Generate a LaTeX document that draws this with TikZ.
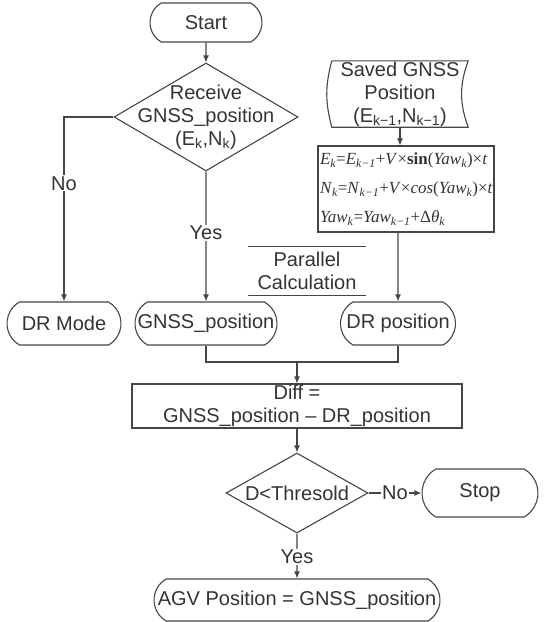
\documentclass[tikz,border=0pt]{standalone}
\usepackage[no-math]{fontspec}
\setmainfont{Liberation Sans}
\newfontfamily\eqfont{Liberation Serif}
\newcommand{\ks}[1]{\textsubscript{\itshape #1}}
\usetikzlibrary{positioning,shapes.geometric,shapes.misc,arrows.meta}
\definecolor{ink}{HTML}{454545}
\definecolor{txtgray}{HTML}{333333}

\begin{document}
\begin{tikzpicture}[x=1pt,y=-1pt,>={Latex[length=7pt,width=6pt]},
    font=\fontsize{20}{23}\selectfont, text=txtgray,
    term/.style = {rounded rectangle, rounded rectangle arc length=120, draw=ink, line width=1.1pt, minimum height=43pt, inner sep=2pt},
    decide/.style = {diamond, draw=ink, line width=1.1pt, inner sep=0pt},
    proc/.style = {rectangle, draw=ink, line width=1.1pt, align=center},
    txt/.style = {align=center, inner sep=0pt},
    lbl/.style = {fill=white, inner sep=1pt},
    line/.style = {draw=ink, line width=1.1pt}]
                \useasboundingbox (0,0) rectangle (544,622);
                \node[term, minimum width=116pt, minimum height=39pt] (start) at (206,22.5) {Start};
                \node[decide, minimum width=184pt, minimum height=108pt] (recv) [below of=start, node distance=94.5pt] {};
                \node[txt] (recvtxt) at (recv) {Receive\\GNSS\_position\\(E\textsubscript{k},N\textsubscript{k})};
                \node[term, minimum width=146pt] (gpos) [below of=recv, node distance=206.5pt] {GNSS\_position};
                \node[term, minimum width=118pt] (drmode) [left of=gpos, node distance=142pt] {DR Mode};
                \node[term, minimum width=119pt] (drpos) [right of=gpos, node distance=192pt] {DR position};
                \node[txt, minimum width=136pt, minimum height=66pt] (saved) at (400,94) {Saved GNSS\\Position\\(E\textsubscript{k−1},N\textsubscript{k−1})};
                \node[proc, minimum width=176pt, minimum height=86pt, text width=172pt, align=left, inner xsep=2pt, font=\eqfont\fontsize{17}{29}\selectfont] (formula) at (406,189)
                    {\textit{E}\ks{k}=\textit{E}\ks{k−1}+\textit{V}×\textbf{sin}(\textit{Yaw}\ks{k})×\textit{t}\\
                     \textit{N}\ks{k}=\textit{N}\ks{k−1}+\textit{V}×\textit{cos}(\textit{Yaw}\ks{k})×\textit{t}\\
                     \textit{Yaw}\ks{k}=\textit{Yaw}\ks{k−1}+Δ\textit{θ}\ks{k}};
                \node[txt, minimum width=118pt, minimum height=48pt] (par) at (307,271) {Parallel\\Calculation};
                \node[proc, minimum width=330pt, minimum height=44pt, inner sep=0pt] (diff) at (297,406) {Diff =\\GNSS\_position – DR\_position};
                \node[decide, minimum width=142pt, minimum height=80pt] (thres) [below of=diff, node distance=87pt] {};
                \node[txt] (threstxt) at (thres) {D<Thresold};
                \node[term, minimum width=120pt, minimum height=48pt] (stop) [right of=thres, node distance=183pt] {Stop};
                \node[term, minimum width=290pt, minimum height=42pt] (agv) [below of=thres, node distance=107pt] {AGV Position = GNSS\_position};
                % stored data outline
                \draw[line] (saved.north west) -- (saved.north east) to[bend right=20] (saved.south east)
                    -- (saved.south west) to[bend left=15] (saved.north west);
                \draw[line] (par.north west) -- (par.north east) (par.south west) -- (par.south east);
                \coordinate (merge) at (297,362);
                \draw[line,->] (start) -- (recv);
                \draw[line,->] (recv.west) -| node[lbl, pos=0.68] {No} (drmode);
                \draw[line,->] (recv) -- node[lbl, pos=0.47] {Yes} (gpos);
                \draw[line,->] (saved) -- (saved |- formula.north);
                \draw[line,->] (formula.south -| drpos) -- (drpos);
                \draw[line] (gpos) |- (merge) -| (drpos);
                \draw[line,->] (merge) -- (diff);
                \draw[line,->] (diff) -- (thres);
                \draw[line,->] (thres) -- node[lbl] {No} (stop);
                \draw[line,->] (thres) -- node[lbl, pos=0.52] {Yes} (agv);
\end{tikzpicture}
\end{document}
